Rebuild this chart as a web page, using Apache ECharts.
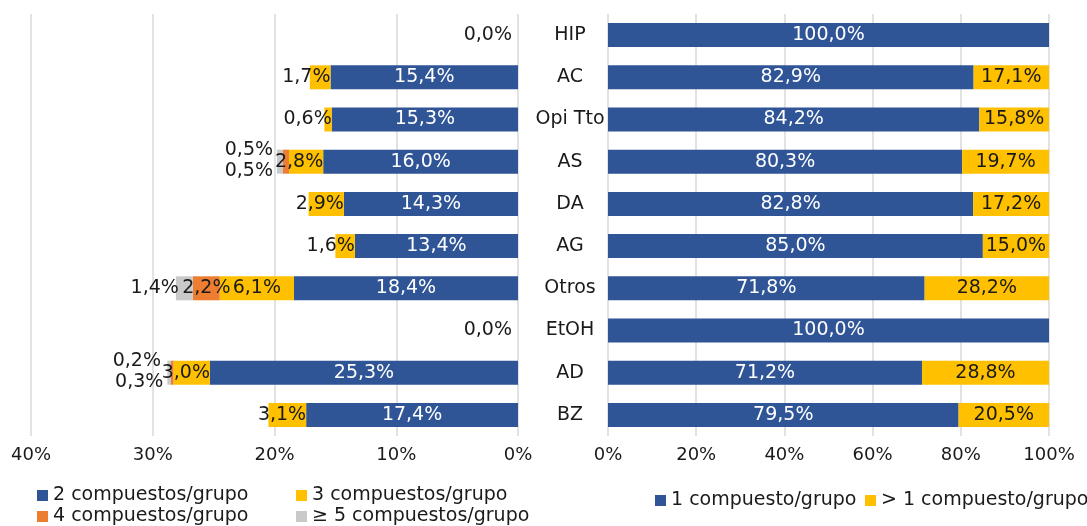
<!DOCTYPE html>
<html>
<head>
<meta charset="utf-8">
<script src="https://cdn.jsdelivr.net/npm/echarts@6/dist/echarts.min.js"></script>
<style>
  html, body { margin: 0; padding: 0; background: #fff; }
  #chart { width: 1087px; height: 526px; }
</style>
</head>
<body>
<div id="chart"></div>
<script>
// Categories (top to bottom)
const categories = ['HIP', 'AC', 'Opi Tto', 'AS', 'DA', 'AG', 'Otros', 'EtOH', 'AD', 'BZ'];

// Left panel: share of groups by number of compounds (%)
const twoCompounds = [0, 15.4, 15.3, 16.0, 14.3, 13.4, 18.4, 0, 25.3, 17.4];
const threeCompounds = [0, 1.7, 0.6, 2.8, 2.9, 1.6, 6.1, 0, 3.0, 3.1];
const fourCompounds = [0, 0, 0, 0.5, 0, 0, 2.2, 0, 0.2, 0];
const fivePlusCompounds = [0, 0, 0, 0.5, 0, 0, 1.4, 0, 0.3, 0];

// Right panel: one compound vs more than one (%)
const oneCompound = [100, 82.9, 84.2, 80.3, 82.8, 85.0, 71.8, 100, 71.2, 79.5];
const moreCompounds = [0, 17.1, 15.8, 19.7, 17.2, 15.0, 28.2, 0, 28.8, 20.5];

// Axis ranges
const leftAxis = { min: 0, max: 40, step: 10 };
const rightAxis = { min: 0, max: 100, step: 20 };

const FONT = 'DejaVu Sans';
const TEXT = '#1a1a1a';
const BLUE = '#2F5597';
const YELLOW = '#FFC000';
const ORANGE = '#ED7D31';
const GREY = '#C9C9C9';
const GRID = '#D9D9D9';

const fmt = v => v.toFixed(1).replace('.', ',') + '%';

const chart = echarts.init(document.getElementById('chart'), null, { renderer: 'canvas' });

const baseLabel = {
  show: true,
  fontFamily: FONT,
  fontSize: 19,
  formatter: p => fmt(p.value)
};

// Blue bars: white centered labels; empty rows show a dark 0,0% next to the axis
const twoData = twoCompounds.map(v => v === 0
  ? { value: v, label: { position: 'left', distance: 6, color: TEXT } }
  : { value: v });

// Yellow bars: narrow segments keep their label against the base side
const threeData = threeCompounds.map(v => {
  if (v === 0) return { value: v, label: { show: false } };
  if (v < 5) return { value: v, label: { position: 'insideRight', distance: 0 } };
  return { value: v };
});

// Orange bars: tiny slivers are labelled above-left of the bar
const fourData = fourCompounds.map(v => {
  if (v === 0) return { value: v, label: { show: false } };
  if (v < 1) return { value: v, label: { position: 'left', distance: 10, offset: [0, -12] } };
  return { value: v };
});

// Grey bars: labels sit outside the bar end, tiny ones below-left
const fiveData = fivePlusCompounds.map(v => {
  if (v === 0) return { value: v, label: { show: false } };
  if (v < 1) return { value: v, label: { position: 'left', distance: 4, offset: [0, 9] } };
  return { value: v, label: { position: 'left', distance: -3 } };
});

const rightOneData = oneCompound.map(v => ({ value: v }));
const rightMoreData = moreCompounds.map(v => v === 0 ? { value: v, label: { show: false } } : { value: v });

const axisLabelStyle = { color: TEXT, fontFamily: FONT, fontSize: 18, margin: 10 };

const barCommon = { type: 'bar', barWidth: 24, animation: false };

const legendText = { color: TEXT, fontFamily: FONT, fontSize: 19, lineHeight: 19 };
const legendCommon = {
  itemWidth: 11, itemHeight: 11, icon: 'rect', selectedMode: false, padding: 0,
  textStyle: legendText
};

const option = {
  animation: false,
  textStyle: { fontFamily: FONT },
  grid: [
    { left: 31, top: 14, width: 487, height: 422, containLabel: false },
    { left: 608, top: 14, width: 441, height: 422, containLabel: false }
  ],
  xAxis: [
    {
      gridIndex: 0, type: 'value', inverse: true,
      min: leftAxis.min, max: leftAxis.max, interval: leftAxis.step,
      axisLine: { show: false }, axisTick: { show: false },
      splitLine: { show: true, lineStyle: { color: GRID, width: 1.5 } },
      axisLabel: Object.assign({}, axisLabelStyle, { formatter: '{value}%' })
    },
    {
      gridIndex: 1, type: 'value',
      min: rightAxis.min, max: rightAxis.max, interval: rightAxis.step,
      axisLine: { show: false }, axisTick: { show: false },
      splitLine: { show: true, lineStyle: { color: GRID, width: 1.5 } },
      axisLabel: Object.assign({}, axisLabelStyle, { formatter: '{value}%' })
    }
  ],
  yAxis: [
    {
      gridIndex: 0, type: 'category', data: categories, inverse: true,
      axisLine: { show: false }, axisTick: { show: false }, axisLabel: { show: false }
    },
    {
      gridIndex: 1, type: 'category', data: categories, inverse: true,
      axisLine: { show: false }, axisTick: { show: false },
      axisLabel: { color: TEXT, fontFamily: FONT, fontSize: 19, align: 'center', margin: 38 }
    }
  ],
  legend: [
    Object.assign({}, legendCommon, {
      data: ['2 compuestos/grupo', '4 compuestos/grupo'],
      orient: 'vertical', left: 37, top: 486, height: 40, itemGap: 2
    }),
    Object.assign({}, legendCommon, {
      data: ['3 compuestos/grupo', '≥ 5 compuestos/grupo'],
      orient: 'vertical', left: 296, top: 486, height: 40, itemGap: 2
    }),
    Object.assign({}, legendCommon, {
      data: ['1 compuesto/grupo'],
      orient: 'horizontal', left: 655, top: 491
    }),
    Object.assign({}, legendCommon, {
      data: ['> 1 compuesto/grupo'],
      orient: 'horizontal', left: 865, top: 491
    })
  ],
  series: [
    Object.assign({}, barCommon, {
      name: '2 compuestos/grupo', xAxisIndex: 0, yAxisIndex: 0, stack: 'left',
      itemStyle: { color: BLUE },
      label: Object.assign({}, baseLabel, { position: 'inside', color: '#fff' }),
      data: twoData
    }),
    Object.assign({}, barCommon, {
      name: '3 compuestos/grupo', xAxisIndex: 0, yAxisIndex: 0, stack: 'left',
      itemStyle: { color: YELLOW },
      label: Object.assign({}, baseLabel, { position: 'inside', color: TEXT }),
      data: threeData
    }),
    Object.assign({}, barCommon, {
      name: '4 compuestos/grupo', xAxisIndex: 0, yAxisIndex: 0, stack: 'left',
      itemStyle: { color: ORANGE },
      label: Object.assign({}, baseLabel, { position: 'inside', color: TEXT }),
      data: fourData
    }),
    Object.assign({}, barCommon, {
      name: '≥ 5 compuestos/grupo', xAxisIndex: 0, yAxisIndex: 0, stack: 'left',
      itemStyle: { color: GREY },
      label: Object.assign({}, baseLabel, { position: 'left', color: TEXT }),
      data: fiveData
    }),
    Object.assign({}, barCommon, {
      name: '1 compuesto/grupo', xAxisIndex: 1, yAxisIndex: 1, stack: 'right',
      itemStyle: { color: BLUE },
      label: Object.assign({}, baseLabel, { position: 'inside', color: '#fff' }),
      data: rightOneData
    }),
    Object.assign({}, barCommon, {
      name: '> 1 compuesto/grupo', xAxisIndex: 1, yAxisIndex: 1, stack: 'right',
      itemStyle: { color: YELLOW },
      label: Object.assign({}, baseLabel, { position: 'inside', color: TEXT }),
      data: rightMoreData
    })
  ]
};

chart.setOption(option);
</script>
</body>
</html>
